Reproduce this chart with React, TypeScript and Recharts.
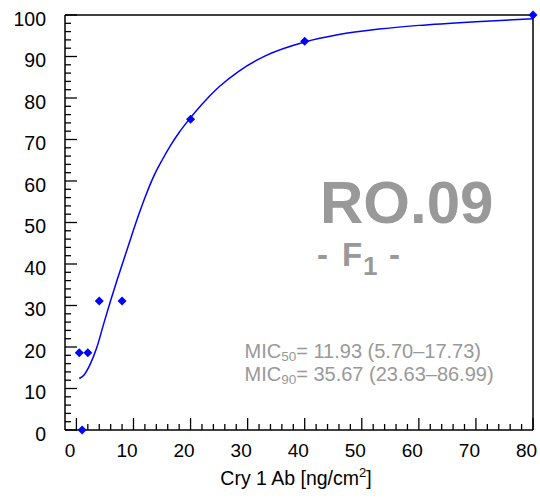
import { ComposedChart, Line, Scatter, XAxis, YAxis } from 'recharts';

// observed mortality (%) at each Cry 1 Ab dose
const doses = [0.5, 1, 2, 4, 8, 20, 40, 80];
const mortality = [18.6, 0, 18.6, 31.1, 31.1, 74.9, 93.7, 100];

// fitted curve
const fitDose = [0.5, 1.3, 2.5, 3.6, 4.8, 6, 7.1, 8, 9.5, 11, 12.2, 13.5, 15, 16.5, 18, 19.5, 22, 25, 28.5, 33, 40, 46, 53, 60, 70, 80];
const fitMort = [12.4, 13.2, 16.1, 20, 25.7, 31.2, 36, 39.8, 46.1, 52.2, 56.7, 61, 65, 68.6, 71.7, 74.4, 78.5, 82.7, 86.5, 90.1, 93.5, 95.3, 96.6, 97.5, 98.4, 99.1];

const xMajor = [0, 10, 20, 30, 40, 50, 60, 70, 80];
const yMajor = [0, 10, 20, 30, 40, 50, 60, 70, 80, 90, 100];
const xTicks = Array.from({ length: 41 }, (_, i) => i * 2);
const yTicks = Array.from({ length: 51 }, (_, i) => i * 2);

const points = doses.map((x, i) => ({ x, y: mortality[i] }));
const fit = fitDose.map((x, i) => ({ x, y: fitMort[i] }));

const FONT = '"Liberation Sans", Arial, Helvetica, sans-serif';
const BLUE = '#0000ff';
const GREY = '#999999';
const axisLine = { stroke: '#000', strokeWidth: 1.5 };

type Side = 'bottom' | 'top' | 'left' | 'right';

const makeTick = (side: Side, majors: number[], labels: boolean) => (props: any) => {
  const { x, y, payload } = props;
  const v = payload.value;
  const len = majors.includes(v) ? 12 : 6;
  let x2 = x;
  let y2 = y;
  if (side === 'bottom') y2 = y - len;
  if (side === 'top') y2 = y + len;
  if (side === 'left') x2 = x + len;
  if (side === 'right') x2 = x - len;
  const showLabel = labels && majors.includes(v);
  return (
    <g>
      <line x1={x} y1={y} x2={x2} y2={y2} stroke="#000" strokeWidth={1.3} />
      {showLabel && side === 'bottom' && (
        <text x={x - 6.5} y={y + 27} textAnchor="middle" fontSize={19} fontFamily={FONT} fill="#000">
          {v}
        </text>
      )}
      {showLabel && side === 'left' && (
        <text x={x - 19} y={y + 10.5} textAnchor="end" fontSize={19.5} fontFamily={FONT} fill="#000">
          {v}
        </text>
      )}
    </g>
  );
};

const Diamond = (props: any) => {
  const { cx, cy } = props;
  const r = 4.5;
  return <path d={`M${cx},${cy - r}L${cx + r},${cy}L${cx},${cy + r}L${cx - r},${cy}Z`} fill={BLUE} />;
};

export default function App() {
  return (
    <div style={{ position: 'fixed', left: 0, top: 0, width: 540, height: 500, background: '#fff' }}>
      <ComposedChart
        width={540}
        height={500}
        margin={{ top: 14, right: 6, bottom: 69, left: 64 }}
        style={{ fontFamily: FONT }}
      >
        <XAxis
          dataKey="x"
          type="number"
          domain={[-2, 80]}
          ticks={xTicks}
          interval={0}
          height={1}
          tickSize={0}
          tickMargin={0}
          tickLine={false}
          axisLine={axisLine}
          tick={makeTick('bottom', xMajor, true)}
        />
        <XAxis
          xAxisId="top"
          orientation="top"
          dataKey="x"
          type="number"
          domain={[-2, 80]}
          ticks={xTicks}
          interval={0}
          height={1}
          tickSize={0}
          tickMargin={0}
          tickLine={false}
          axisLine={axisLine}
          tick={makeTick('top', xMajor, false)}
        />
        <YAxis
          dataKey="y"
          type="number"
          domain={[0, 100]}
          ticks={yTicks}
          interval={0}
          width={1}
          tickSize={0}
          tickMargin={0}
          tickLine={false}
          axisLine={axisLine}
          tick={makeTick('left', yMajor, true)}
        />
        <YAxis
          yAxisId="right"
          orientation="right"
          dataKey="y"
          type="number"
          domain={[0, 100]}
          ticks={yTicks}
          interval={0}
          width={1}
          tickSize={0}
          tickMargin={0}
          tickLine={false}
          axisLine={axisLine}
          tick={makeTick('right', yMajor, false)}
        />
        <Line
          data={fit}
          dataKey="y"
          type="monotone"
          stroke={BLUE}
          strokeWidth={1.5}
          dot={false}
          activeDot={false}
          isAnimationActive={false}
        />
        <Scatter data={points} dataKey="y" fill={BLUE} shape={Diamond} isAnimationActive={false} />

        <text x={406.7} y={223.3} textAnchor="middle" fontSize={60} fontWeight="bold" fontFamily={FONT} fill={GREY}>
          RO.09
        </text>
        <text y={266} fontSize={33} fontWeight="bold" fontFamily={FONT} fill={GREY}>
          <tspan x={317}>-</tspan>
          <tspan x={342}>F</tspan>
          <tspan x={363} fontSize={26} dy={9}>1</tspan>
          <tspan x={389} dy={-9}>-</tspan>
        </text>
        <text x={244.5} y={358.3} fontSize={20} fontFamily={FONT} fill={GREY}>
          MIC
          <tspan fontSize={13.5} dy={3}>50</tspan>
          <tspan dy={-3}>= 11.93 (5.70–17.73)</tspan>
        </text>
        <text x={244.5} y={380.7} fontSize={20} fontFamily={FONT} fill={GREY}>
          MIC
          <tspan fontSize={13.5} dy={3}>90</tspan>
          <tspan dy={-3}>= 35.67 (23.63–86.99)</tspan>
        </text>
        <text x={296} y={485} textAnchor="middle" fontSize={19.5} fontFamily={FONT} fill="#000">
          Cry 1 Ab [ng/cm
          <tspan fontSize={13} dy={-8}>2</tspan>
          <tspan dy={8}>]</tspan>
        </text>
      </ComposedChart>
    </div>
  );
}
